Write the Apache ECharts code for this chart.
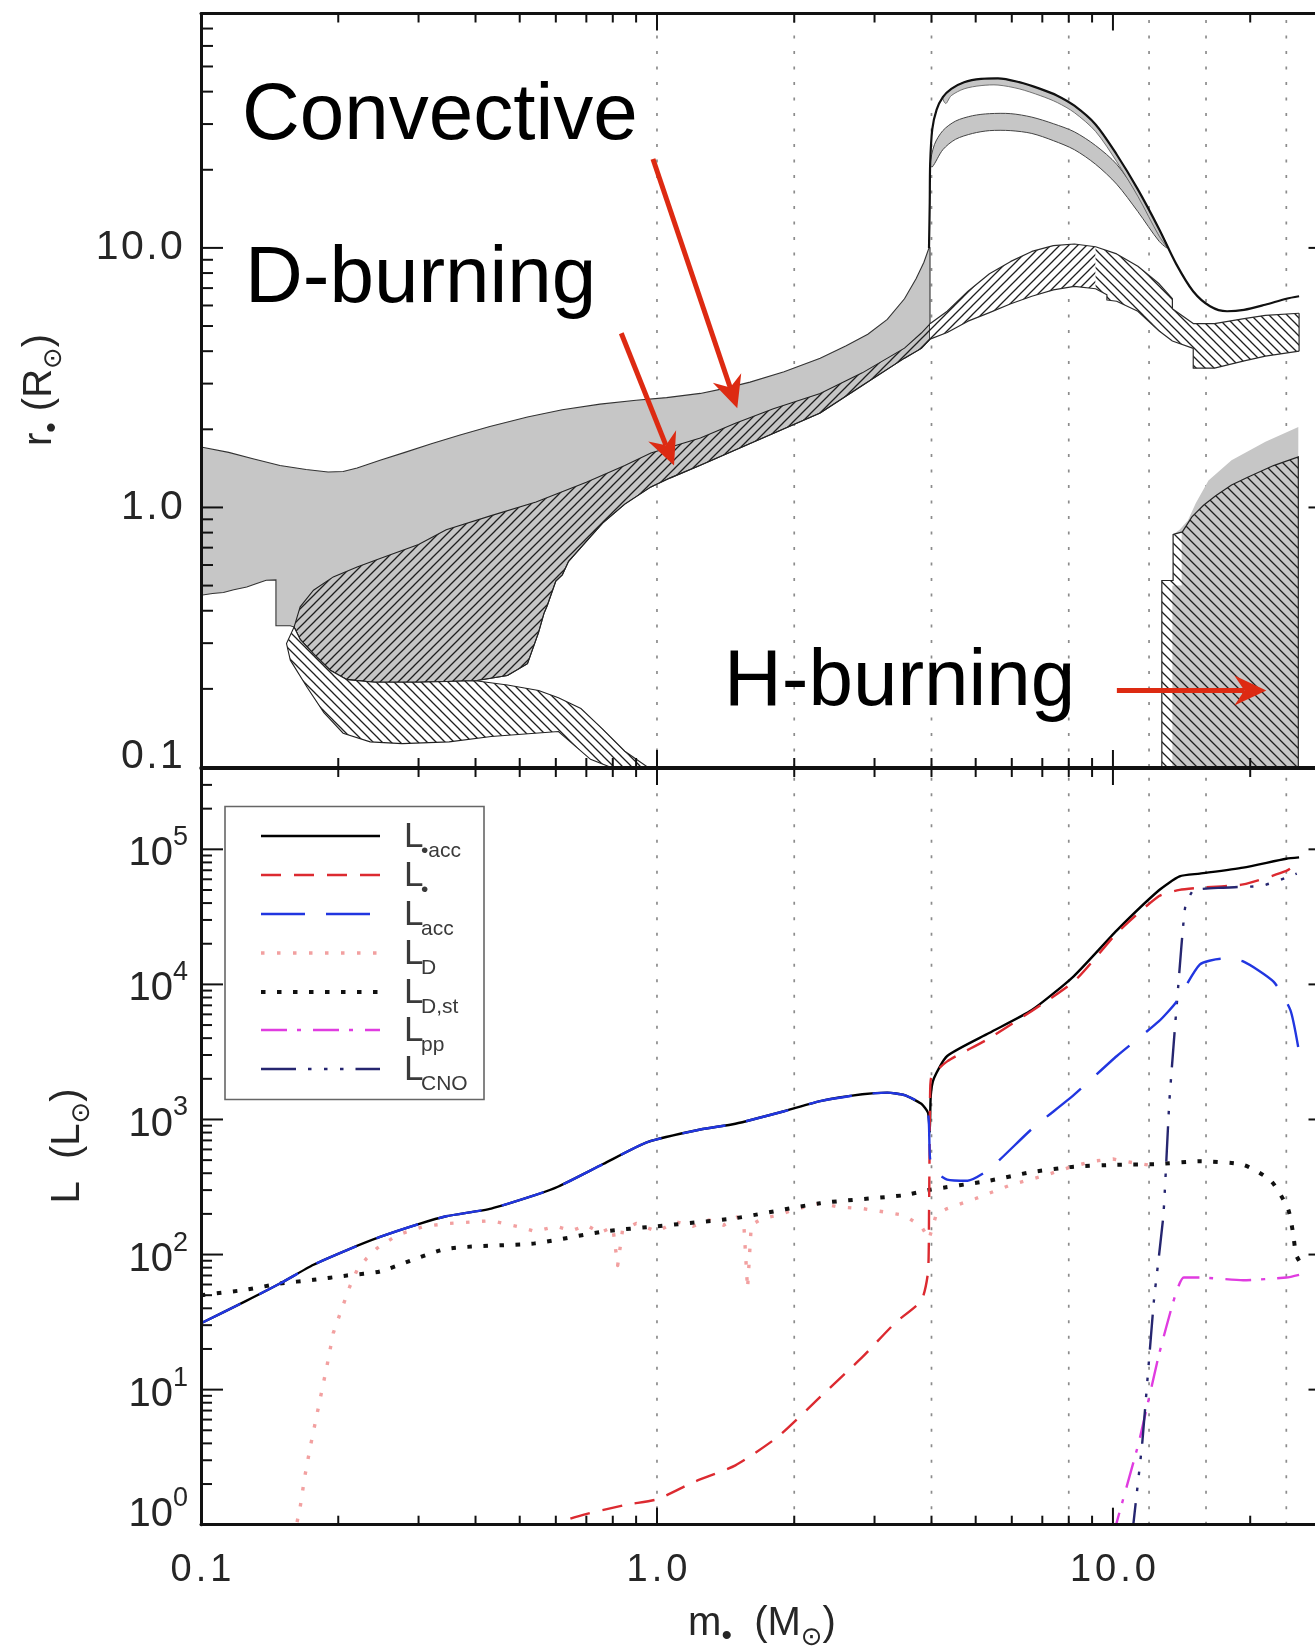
<!DOCTYPE html>
<html>
<head>
<meta charset="utf-8">
<script src="https://cdn.jsdelivr.net/npm/echarts@6/dist/echarts.min.js"></script>
<style>
  html, body { margin: 0; padding: 0; background: #fff; overflow: hidden; }
  #chart { width: 1315px; height: 1652px; }
</style>
</head>
<body>
<div id="chart"></div>
<script>
// ---------------- axis ranges and ticks ----------------
const massRange = [0.1, 30];
const radiusRange = [0.1, 80];
const lumRange = [1, 4e5];

const massMajorTicks = [1, 10];
const massMinorTicks = [0.2, 0.3, 0.4, 0.5, 0.6, 0.7, 0.8, 0.9, 2, 3, 4, 5, 6, 7, 8, 9, 20];
const radiusMajorTicks = [1, 10];
const radiusMinorTicks = [0.2, 0.3, 0.4, 0.5, 0.6, 0.7, 0.8, 0.9, 2, 3, 4, 5, 6, 7, 8, 9, 20, 30, 40, 50, 60, 70];
const lumMajorTicks = [10, 100, 1000, 10000, 100000];
const lumMinorTicks = [2, 3, 4, 5, 6, 7, 8, 9, 20, 30, 40, 50, 60, 70, 80, 90,
  200, 300, 400, 500, 600, 700, 800, 900, 2000, 3000, 4000, 5000, 6000, 7000, 8000, 9000,
  20000, 30000, 40000, 50000, 60000, 70000, 80000, 90000, 200000, 300000];
const guideMasses = [1, 2, 4, 8, 12, 16, 24];
const massTickLabels = { '0.1': '0.1', '1': '1.0', '10': '10.0' };
const radiusTickLabels = { '0.1': '0.1', '1': '1.0', '10': '10.0' };

// ---------------- upper panel: interior structure (m*, r) ----------------
// convective zone, low-mass branch: outer boundary
const convTop = [[0.1, 1.71], [0.115, 1.63], [0.13, 1.54], [0.149, 1.45], [0.17, 1.4], [0.19, 1.37],
  [0.205, 1.375], [0.22, 1.42], [0.247, 1.52], [0.28, 1.63], [0.32, 1.76], [0.37, 1.9], [0.43, 2.05],
  [0.52, 2.23], [0.62, 2.38], [0.75, 2.5], [0.9, 2.59], [1.05, 2.65], [1.245, 2.75], [1.4, 2.87],
  [1.6, 3.04], [1.9, 3.33], [2.28, 3.76], [2.6, 4.2], [2.9, 4.65], [3.2, 5.3], [3.49, 6.37], [3.7, 7.6],
  [3.85, 8.8], [3.95, 10.0], [3.97, 10.0]];
// convective zone inner edge at the lowest masses (right to left)
const convBottomLeft = [[0.157, 0.35], [0.146, 0.35], [0.146, 0.526], [0.139, 0.524], [0.132, 0.508],
  [0.126, 0.494], [0.118, 0.482], [0.112, 0.47], [0.106, 0.466], [0.1, 0.459]];
// deuterium-burning shell, upper edge
const dTop = [[0.16, 0.346], [0.165, 0.414], [0.1765, 0.48], [0.195, 0.54], [0.22, 0.59], [0.247, 0.636],
  [0.3, 0.72], [0.345, 0.82], [0.433, 0.93], [0.543, 1.05], [0.7, 1.25], [0.85, 1.45], [0.97, 1.62],
  [1.245, 1.85], [1.486, 2.11], [1.8, 2.4], [2.28, 2.75], [2.82, 3.3], [3.49, 4.11], [3.8, 4.7], [3.97, 5.1]];
// deuterium-burning shell, lower edge
const dBottom = [[0.16, 0.346], [0.165, 0.31], [0.1765, 0.273], [0.192, 0.236], [0.209, 0.217], [0.24, 0.212],
  [0.3, 0.212], [0.4, 0.215], [0.47, 0.225], [0.52, 0.25], [0.55, 0.33], [0.565, 0.39], [0.575, 0.42],
  [0.6, 0.52], [0.62, 0.55], [0.64, 0.62], [0.7, 0.74], [0.76, 0.87], [0.85, 1.03], [0.97, 1.2],
  [1.07, 1.30], [1.245, 1.455], [1.61, 1.77], [2.28, 2.31], [2.82, 2.95], [3.49, 3.76], [3.8, 4.1], [3.97, 4.45]];
// central deuterium-burning region below the shell
const d2Inner = [[0.47, 0.207], [0.55, 0.197], [0.608, 0.185], [0.681, 0.168], [0.76, 0.14], [0.85, 0.115],
  [0.953, 0.1], [1.02, 0.092], [1.05, 0.085]];
const d2Outer = [[0.154, 0.299], [0.157, 0.258], [0.171, 0.2025], [0.186, 0.162], [0.205, 0.135], [0.235, 0.125],
  [0.276, 0.123], [0.35, 0.125], [0.433, 0.131], [0.608, 0.137], [0.715, 0.107], [0.85, 0.095], [0.92, 0.085]];
// deuterium-burning shell after the swelling
const bandTop = [[3.97, 5.1], [4.33, 5.7], [4.81, 6.81], [5.36, 7.95], [5.97, 8.87], [6.64, 9.69], [7.4, 10.2],
  [8.23, 10.35], [9.16, 10.1], [10.19, 9.48], [11.34, 8.5], [12.63, 7.27], [13.5, 6.37], [13.5, 5.83],
  [15.0, 5.11], [16.7, 5.11], [19.4, 5.34], [21.6, 5.5], [25.6, 5.6]];
const bandBottom = [[3.97, 4.45], [4.33, 4.72], [4.81, 5.22], [5.36, 5.63], [5.97, 6.09], [6.64, 6.51],
  [7.4, 6.89], [8.23, 7.11], [9.16, 6.96], [9.7, 6.6], [9.7, 6.3], [10.19, 6.23], [11.34, 5.7], [12.63, 4.78],
  [13.5, 4.38], [15.0, 4.1], [15.0, 3.44], [16.7, 3.44], [19.4, 3.67], [21.6, 3.83], [25.6, 4.0]];
// stellar surface after the swelling, and its thin convective layer
const surfaceOuter = [[3.95, 10.0], [3.965, 15.0], [3.973, 21.0], [4.015, 28.6], [4.105, 34.1], [4.236, 38.1],
  [4.42, 41.0], [4.716, 43.5], [5.137, 44.8], [5.596, 45.0], [6.227, 43.5], [6.93, 41.0], [7.55, 38.6],
  [8.23, 35.3], [9.16, 29.9], [10.19, 22.9], [11.34, 16.8], [12.63, 11.8], [13.76, 8.68], [14.99, 6.81],
  [16.33, 5.96], [17.79, 5.7], [19.38, 5.77], [21.57, 6.04], [24.0, 6.37], [25.6, 6.51]];
const surfaceInner = [[4.3, 36.0], [4.42, 38.6], [4.716, 41.0], [5.137, 42.2], [5.596, 42.4], [6.227, 41.0],
  [6.93, 38.6], [7.55, 36.3], [8.23, 33.2], [9.16, 28.1], [10.19, 21.5], [11.34, 15.8], [12.63, 11.1], [13.2, 10.0]];
// deeper convective layer in the swollen envelope
const envUpper = [[3.973, 21.0], [4.06, 25.0], [4.236, 28.3], [4.516, 30.8], [4.92, 32.3], [5.36, 32.9],
  [5.97, 32.9], [6.64, 31.9], [7.4, 30.1], [8.23, 28.0], [9.16, 24.8], [10.19, 21.0], [11.34, 16.1],
  [12.63, 11.8], [13.18, 10.0]];
const envLower = [[4.015, 20.5], [4.236, 23.9], [4.516, 26.2], [4.92, 27.6], [5.36, 28.3], [5.97, 28.3],
  [6.64, 27.6], [7.4, 25.9], [8.23, 23.9], [9.16, 21.0], [10.19, 17.6], [11.34, 13.8], [12.63, 10.6]];
// hydrogen-burning core
const hOuter = [[12.8, 0.09], [12.8, 0.523], [13.55, 0.523], [13.55, 0.787], [14.2, 0.805], [14.9, 0.92],
  [15.8, 1.02], [16.8, 1.11], [18.2, 1.22], [19.8, 1.31], [22.5, 1.45], [25.5, 1.566], [25.5, 0.09]];
const hConvective = [[13.5, 0.09], [13.5, 0.5], [14.15, 0.5], [14.15, 0.8], [14.9, 0.92], [15.8, 1.02],
  [16.8, 1.11], [18.2, 1.22], [19.8, 1.31], [22.5, 1.45], [25.5, 1.566], [25.5, 0.09]];
const hCapTop = [[13.55, 0.787], [14.0, 0.82], [14.6, 0.89], [15.2, 1.04], [16.2, 1.27], [18.2, 1.52],
  [21.6, 1.79], [25.5, 2.04]];

// ---------------- lower panel: luminosities (m*, L) ----------------
const lStarAcc = [[0.1, 31], [0.125, 45], [0.149, 61], [0.1765, 84], [0.209, 108], [0.247, 135], [0.3, 168],
  [0.345, 192], [0.433, 219], [0.54, 275], [0.608, 319], [0.762, 468], [0.953, 680], [1.245, 843],
  [1.486, 929], [1.9, 1150], [2.28, 1368], [2.82, 1538], [3.2, 1581], [3.49, 1514], [3.8, 1306],
  [3.93, 1122], [3.965, 800], [3.985, 1500], [4.05, 2019], [4.33, 2951], [5.35, 4365], [6.64, 6457],
  [8.2, 11481], [10.2, 25119], [12.6, 49545], [14.0, 63096], [15.5, 66069], [19.3, 73282], [24.0, 85114],
  [25.6, 87096]];
const lStar = [[0.5, 0.55], [0.62, 1.05], [0.851, 1.4], [1.0, 1.54], [1.2, 2.06], [1.486, 2.75], [1.84, 4.47],
  [2.28, 8.83], [2.82, 17.4], [3.33, 31.2], [3.8, 45.7], [3.93, 74], [3.95, 197], [3.96, 519], [3.97, 1368],
  [3.99, 2018], [4.33, 2692], [5.35, 3981], [8.2, 10471], [10.2, 23988], [12.6, 44978], [14.0, 50119],
  [15.5, 51999], [19.3, 54954], [24.0, 69183], [25.3, 77625]];
const lAcc = [[0.1, 31], [0.125, 45], [0.149, 61], [0.1765, 84], [0.209, 108], [0.247, 135], [0.3, 168],
  [0.345, 192], [0.433, 219], [0.54, 275], [0.608, 319], [0.762, 468], [0.953, 680], [1.245, 843],
  [1.486, 929], [1.9, 1150], [2.28, 1368], [2.82, 1538], [3.2, 1581], [3.49, 1514], [3.8, 1306],
  [3.93, 1090], [3.95, 900], [3.97, 520], [4.05, 420], [4.33, 359], [4.8, 352], [5.35, 427], [6.64, 851],
  [8.2, 1514], [10.2, 2951], [12.6, 5321], [13.77, 7413], [15.5, 14028], [17.3, 15488], [19.3, 14791],
  [22.5, 10471], [24.5, 6457], [25.5, 3400]];
const lD = [[0.16, 0.8], [0.162, 1.0], [0.165, 1.35], [0.169, 2.3], [0.174, 3.9], [0.18, 6.8], [0.189, 15.1],
  [0.195, 26.2], [0.202, 36.8], [0.212, 58], [0.22, 77], [0.231, 94], [0.243, 111], [0.27, 140], [0.309, 162],
  [0.35, 170], [0.433, 178], [0.5, 160], [0.54, 148], [0.6, 162], [0.65, 150], [0.7, 165], [0.75, 145],
  [0.8, 160], [0.82, 83], [0.84, 150], [0.9, 170], [1.0, 148], [1.1, 175], [1.2, 162], [1.3, 180],
  [1.4, 165], [1.5, 190], [1.55, 170], [1.58, 56], [1.61, 165], [1.7, 185], [1.84, 195], [2.0, 215],
  [2.28, 240], [2.5, 225], [2.82, 219], [3.2, 205], [3.49, 195], [3.8, 162], [3.95, 130], [4.1, 200],
  [4.33, 219], [5.0, 260], [6.0, 330], [7.0, 380], [8.0, 440], [9.0, 490], [10.0, 510], [11.0, 480],
  [12.0, 460]];
const lDst = [[0.1, 50], [0.126, 55], [0.149, 61], [0.1765, 65], [0.209, 70], [0.247, 75], [0.345, 110],
  [0.54, 121], [0.762, 148], [1.0, 162], [1.486, 186], [2.28, 240], [3.49, 275], [3.97, 302], [5.35, 352],
  [6.6, 407], [8.2, 447], [10.2, 462], [12.6, 468], [15.5, 490], [19.3, 462], [22.2, 352], [24.2, 219],
  [24.8, 148], [25.2, 100], [25.6, 90]];
const lPP = [[10.0, 0.8], [10.2, 1.05], [11.4, 4.1], [12.6, 17.8], [13.7, 50], [14.3, 67.6], [15.5, 67.6],
  [19.3, 64.6], [24.0, 67.6], [25.6, 70.8]];
const lCNO = [[11.0, 0.8], [11.1, 1.05], [11.6, 4.1], [12.3, 45.7], [12.9, 195], [13.3, 1380], [13.9, 9550],
  [14.4, 37154], [15.0, 49545], [17.3, 51999], [21.2, 53703], [24.0, 61660], [25.3, 66069]];

const legendSubscripts = ['\u2022acc', '\u2022', 'acc', 'D', 'D,st', 'pp', 'CNO'];
const annotationTexts = ['Convective', 'D-burning', 'H-burning'];
// arrows in (m*, r) of the upper panel: [from, to]
const annotationArrows = [[[0.98, 22.0], [1.50, 2.41]], [[0.835, 4.69], [1.09, 1.45]], [[10.2, 0.197], [21.7, 0.197]]];

// ---------------- styles ----------------
const FONT = '"Liberation Sans", Arial, "DejaVu Sans", sans-serif';
const GRAY = '#c6c6c6';
const INK = '#111';
const LABEL = '#262626';
const RED_ARROW = '#dd2a12';
const lineStyles = {
  starAcc: { color: '#000000', width: 2.4, type: 'solid' },
  star:    { color: '#dc2a30', width: 2.4, type: [20, 13] },
  acc:     { color: '#2136e0', width: 2.4, type: [44, 21] },
  d:       { color: '#f2a0a0', width: 3.4, type: [3.5, 12.5] },
  dst:     { color: '#111111', width: 4, type: [4.5, 11.5] },
  pp:      { color: '#e03ce0', width: 2.4, type: [26, 10, 4, 12] },
  cno:     { color: '#262670', width: 2.4, type: [35, 12, 3.5, 12.5, 3.5, 12.5, 3.5, 12] }
};

function hatch(dir, size, bg) {
  const c = document.createElement('canvas');
  c.width = size; c.height = size;
  const g = c.getContext('2d');
  if (bg) { g.fillStyle = bg; g.fillRect(0, 0, size, size); }
  g.strokeStyle = '#1e1e1e'; g.lineWidth = 1.3;
  g.beginPath();
  if (dir === '/') {
    g.moveTo(-1, size + 1); g.lineTo(size + 1, -1);
    g.moveTo(-1, 1); g.lineTo(1, -1);
    g.moveTo(size - 1, size + 1); g.lineTo(size + 1, size - 1);
  } else {
    g.moveTo(-1, -1); g.lineTo(size + 1, size + 1);
    g.moveTo(size - 1, -1); g.lineTo(size + 1, 1);
    g.moveTo(-1, size - 1); g.lineTo(1, size + 1);
  }
  g.stroke();
  return { image: c, repeat: 'repeat' };
}
const hatchFwd = hatch('/', 9, null);
const hatchFwdWhite = hatch('/', 9, '#ffffff');
const hatchBackWhite = hatch('\\', 9, '#ffffff');
const hatchBack = hatch('\\', 10, null);

// ---------------- series helpers ----------------
function polygon(grid, pts, style, z, smooth) {
  return {
    type: 'custom', coordinateSystem: 'cartesian2d', xAxisIndex: grid * 2, yAxisIndex: grid * 2,
    clip: true, silent: true, z: z || 2, data: [pts[0]],
    renderItem: (params, api) => ({
      type: 'polygon', shape: { points: pts.map(p => api.coord(p)), smooth: smooth || 0 }, style: style
    })
  };
}
function curve(grid, data, ls, z, smooth) {
  return {
    type: 'line', xAxisIndex: grid * 2, yAxisIndex: grid * 2, data: data, symbol: 'none', showSymbol: false,
    silent: true, z: z || 3, smooth: smooth || false, clip: true,
    lineStyle: { color: ls.color, width: ls.width, type: ls.type, cap: 'butt', join: 'round' }
  };
}
function guides(grid, yr) {
  return {
    type: 'custom', coordinateSystem: 'cartesian2d', xAxisIndex: grid * 2, yAxisIndex: grid * 2,
    silent: true, z: 1, data: guideMasses.map(m => [m, yr[0]]),
    renderItem: (params, api) => {
      const m = api.value(0);
      const a = api.coord([m, yr[0]]), b = api.coord([m, yr[1]]);
      return { type: 'line', shape: { x1: a[0], y1: a[1], x2: b[0], y2: b[1] },
        style: { stroke: '#8c8c8c', lineWidth: 1.7, lineDash: [3, 12.5] } };
    }
  };
}
function xTicks(grid, values, len, yr) {
  return {
    type: 'custom', coordinateSystem: 'cartesian2d', xAxisIndex: grid * 2, yAxisIndex: grid * 2,
    silent: true, z: 8, data: values.map(v => [v, yr[0]]),
    renderItem: (params, api) => {
      const v = api.value(0);
      const a = api.coord([v, yr[0]]), b = api.coord([v, yr[1]]);
      return { type: 'group', children: [
        { type: 'line', shape: { x1: a[0], y1: a[1], x2: a[0], y2: a[1] - len }, style: { stroke: INK, lineWidth: 2 } },
        { type: 'line', shape: { x1: b[0], y1: b[1], x2: b[0], y2: b[1] + len }, style: { stroke: INK, lineWidth: 2 } }
      ] };
    }
  };
}
function yTicks(grid, values, len, xr) {
  return {
    type: 'custom', coordinateSystem: 'cartesian2d', xAxisIndex: grid * 2, yAxisIndex: grid * 2,
    silent: true, z: 8, data: values.map(v => [xr[0], v]),
    renderItem: (params, api) => {
      const v = api.value(1);
      const a = api.coord([xr[0], v]), b = api.coord([xr[1], v]);
      return { type: 'group', children: [
        { type: 'line', shape: { x1: a[0], y1: a[1], x2: a[0] + len, y2: a[1] }, style: { stroke: INK, lineWidth: 2 } },
        { type: 'line', shape: { x1: b[0], y1: b[1], x2: b[0] - len, y2: b[1] }, style: { stroke: INK, lineWidth: 2 } }
      ] };
    }
  };
}

function near(a, b) { return Math.abs(a - b) <= 1e-6 * Math.max(Math.abs(a), Math.abs(b)); }
function labelFrom(map, v) {
  for (const k in map) if (near(+k, v)) return map[k];
  return '';
}
// tick labels are set with a little extra space between the characters
function spaced(text, styleName) {
  return text.split('').map(ch => '{' + styleName + '|' + ch + '}').join('');
}

// ---------------- polygons built from the outlines ----------------
const convectiveLow = [...convTop, ...dBottom.slice().reverse(), ...convBottomLeft];
const dShell = [...dTop, ...dBottom.slice(1).reverse()];
const dCentral = [...dBottom.slice(0, 8), ...d2Inner, ...d2Outer.slice().reverse()];
const splitTop = 8, splitBottom = 8;   // the shell hatching changes direction near 8 M_sun
const bandA = [...bandTop.slice(0, splitTop + 1), ...bandBottom.slice(0, splitBottom + 1).reverse()];
const bandB = [...bandTop.slice(splitTop), ...bandBottom.slice(splitBottom).reverse()];
const surfaceLayer = [...surfaceOuter.slice(5, 18), ...surfaceInner.slice().reverse()];
const envLayer = [...envUpper, ...envLower.slice().reverse()];
const hCap = [...hCapTop, ...hOuter.slice(3, 12).reverse()];
const bandEnd = [bandTop[bandTop.length - 1], bandBottom[bandBottom.length - 1]];

const thin = { color: '#2a2a2a', width: 1.2, type: 'solid' };

const series = [
  guides(0, radiusRange),
  polygon(0, convectiveLow, { fill: GRAY, stroke: '#333', lineWidth: 1.1 }, 2),
  polygon(0, dShell, { fill: hatchFwd, stroke: '#222', lineWidth: 1.1 }, 2),
  polygon(0, dCentral, { fill: hatchBackWhite, stroke: '#222', lineWidth: 1.1 }, 2),
  polygon(0, bandA, { fill: hatchFwdWhite }, 2),
  polygon(0, bandB, { fill: hatchBackWhite }, 2),
  curve(0, bandTop, thin, 3),
  curve(0, bandBottom, thin, 3),
  curve(0, bandEnd, thin, 3),
  polygon(0, envLayer, { fill: GRAY, stroke: '#444', lineWidth: 1 }, 2, 0.3),
  polygon(0, surfaceLayer, { fill: GRAY, stroke: '#555', lineWidth: 0.8 }, 2, 0.3),
  curve(0, surfaceOuter, { color: '#111', width: 2.2, type: 'solid' }, 4, 0.3),
  polygon(0, hConvective, { fill: GRAY }, 2),
  polygon(0, hCap, { fill: GRAY }, 2),
  polygon(0, hOuter, { fill: hatchBack, stroke: '#222', lineWidth: 1.2 }, 3),
  xTicks(0, massMajorTicks, 17, radiusRange),
  xTicks(0, massMinorTicks, 9, radiusRange),
  yTicks(0, radiusMajorTicks, 22, massRange),
  yTicks(0, radiusMinorTicks, 12, massRange),

  guides(1, lumRange),
  curve(1, lD, lineStyles.d, 3),
  curve(1, lDst, lineStyles.dst, 3, 0.2),
  curve(1, lPP, lineStyles.pp, 3, 0.2),
  curve(1, lStarAcc, lineStyles.starAcc, 4, 0.2),
  curve(1, lStar, lineStyles.star, 5, 0.2),
  curve(1, lAcc, lineStyles.acc, 6, 0.2),
  curve(1, lCNO, lineStyles.cno, 5, 0.15),
  xTicks(1, massMajorTicks, 17, lumRange),
  xTicks(1, massMinorTicks, 9, lumRange),
  yTicks(1, lumMajorTicks, 22, massRange),
  yTicks(1, lumMinorTicks, 11, massRange)
];

// ---------------- axes ----------------
const axisLine = { show: true, onZero: false, lineStyle: { color: INK, width: 3 } };
function massAxis(grid, position, labels) {
  return {
    gridIndex: grid, type: 'log', logBase: 10, min: massRange[0], max: massRange[1], position: position, z: 10,
    axisLine: axisLine, axisTick: { show: false }, splitLine: { show: false },
    axisLabel: labels ? {
      show: true, margin: 27, fontSize: 38, fontFamily: FONT, color: LABEL,
      formatter: v => spaced(labelFrom(massTickLabels, v), 'c'),
      rich: { c: { fontSize: 38, fontFamily: FONT, color: LABEL, padding: [0, 2, 0, 2] } }
    } : { show: false }
  };
}
function valueAxis(grid, position, range, labelCfg) {
  return {
    gridIndex: grid, type: 'log', logBase: 10, min: range[0], max: range[1], position: position, z: 10,
    axisLine: axisLine, axisTick: { show: false }, splitLine: { show: false },
    axisLabel: labelCfg || { show: false }
  };
}
const radiusLabels = {
  show: true, margin: 17, fontSize: 41, fontFamily: FONT, color: LABEL,
  formatter: v => spaced(labelFrom(radiusTickLabels, v), near(v, 0.1) ? 'lift' : 'c'),
  rich: {
    c:    { fontSize: 41, fontFamily: FONT, color: LABEL, padding: [0, 1.2, 0, 1.2] },
    lift: { fontSize: 41, fontFamily: FONT, color: LABEL, padding: [0, 1.2, 20, 1.2] }
  }
};
const lumLabels = {
  show: true, margin: 13, fontFamily: FONT, color: LABEL,
  formatter: v => {
    const e = Math.round(Math.log10(v));
    if (!near(Math.pow(10, e), v) || v > 2e5) return '';
    return e === 0 ? '{b0|10}{e0|0}' : '{b|10}{e|' + e + '}';
  },
  rich: {
    b:  { fontSize: 40, fontFamily: FONT, color: LABEL, padding: [10, 0, 0, 0] },
    e:  { fontSize: 27, fontFamily: FONT, color: LABEL, padding: [0, 0, 23, 0] },
    b0: { fontSize: 40, fontFamily: FONT, color: LABEL, padding: [10, 0, 30, 0] },
    e0: { fontSize: 27, fontFamily: FONT, color: LABEL, padding: [0, 0, 53, 0] }
  }
};

const option = {
  animation: false,
  backgroundColor: '#ffffff',
  grid: [
    { left: 201, top: 13.5, width: 1129.5, height: 753.5, containLabel: false, outerBoundsMode: 'none' },
    { left: 201, top: 768, width: 1129.5, height: 756.7, containLabel: false, outerBoundsMode: 'none' }
  ],
  xAxis: [
    massAxis(0, 'bottom', false), massAxis(0, 'top', false),
    massAxis(1, 'bottom', true), massAxis(1, 'top', false)
  ],
  yAxis: [
    valueAxis(0, 'left', radiusRange, radiusLabels), valueAxis(0, 'right', radiusRange),
    valueAxis(1, 'left', lumRange, lumLabels), valueAxis(1, 'right', lumRange)
  ],
  series: series
};

const chart = echarts.init(document.getElementById('chart'), null, { renderer: 'canvas', width: 1315, height: 1652 });
chart.setOption(option);

// ---------------- annotations, axis titles and legend ----------------
function arrowShapes(p0, p1) {
  const dx = p1[0] - p0[0], dy = p1[1] - p0[1];
  const len = Math.hypot(dx, dy), ux = dx / len, uy = dy / len;
  const head = 32, half = 15, notch = 22;
  const bx = p1[0] - ux * head, by = p1[1] - uy * head;
  const nx = p1[0] - ux * notch, ny = p1[1] - uy * notch;
  return [
    { type: 'line', z: 20, shape: { x1: p0[0], y1: p0[1], x2: nx, y2: ny }, style: { stroke: RED_ARROW, lineWidth: 5 } },
    { type: 'polygon', z: 20, shape: { points: [p1, [bx - uy * half, by + ux * half], [nx, ny], [bx + uy * half, by - ux * half]] },
      style: { fill: RED_ARROW } }
  ];
}
const graphics = [];
annotationArrows.forEach(a => {
  const p0 = chart.convertToPixel({ gridIndex: 0 }, a[0]);
  const p1 = chart.convertToPixel({ gridIndex: 0 }, a[1]);
  graphics.push(...arrowShapes(p0, p1));
});
const textSpots = [[242, 117], [245, 280], [724, 683]];
annotationTexts.forEach((t, i) => {
  graphics.push({ type: 'text', z: 20, x: textSpots[i][0], y: textSpots[i][1],
    style: { text: t, fontSize: 80, fontFamily: FONT, fill: '#000', align: 'left', verticalAlign: 'middle' } });
});

// axis titles
const titleRich = {
  m: { fontSize: 40, fontFamily: FONT, fill: LABEL, padding: [0, 0, 12, 0] },
  s: { fontSize: 26, fontFamily: FONT, fill: LABEL, padding: [16, 0, 0, 0] },
  d: { fontSize: 30, fontFamily: FONT, fill: LABEL, padding: [14, 0, 0, 0] }
};
graphics.push({ type: 'text', z: 20, x: 46, y: 390, rotation: Math.PI / 2,
  style: { text: '{m|r}{d|\u2022}{m| (R}{s|\u2299}{m|)}', rich: titleRich, align: 'center', verticalAlign: 'middle' } });
graphics.push({ type: 'text', z: 20, x: 74, y: 1146, rotation: Math.PI / 2,
  style: { text: '{m|L  (L}{s|\u2299}{m|)}', rich: titleRich, align: 'center', verticalAlign: 'middle' } });
graphics.push({ type: 'text', z: 20, x: 762, y: 1630,
  style: { text: '{m|m}{d|\u2022}{m|  (M}{s|\u2299}{m|)}', rich: titleRich, align: 'center', verticalAlign: 'middle' } });

// legend
const legendRows = [836, 875, 914, 953, 992, 1030, 1069];
const legendKeys = ['starAcc', 'star', 'acc', 'd', 'dst', 'pp', 'cno'];
graphics.push({ type: 'rect', z: 15, shape: { x: 225, y: 806.5, width: 259, height: 293 },
  style: { fill: '#fff', stroke: '#666', lineWidth: 1.6 } });
legendKeys.forEach((k, i) => {
  const ls = lineStyles[k];
  const y = legendRows[i];
  graphics.push({ type: 'line', z: 16, shape: { x1: 261, y1: y, x2: 380, y2: y },
    style: { stroke: ls.color, lineWidth: ls.width, lineDash: ls.type === 'solid' ? null : ls.type } });
  graphics.push({ type: 'text', z: 16, x: 404, y: y + 1,
    style: { text: 'L', fontSize: 35, fontFamily: FONT, fill: '#3a3a3a', align: 'left', verticalAlign: 'middle' } });
  graphics.push({ type: 'text', z: 16, x: 421, y: y + 15,
    style: { text: legendSubscripts[i], fontSize: 21, fontFamily: FONT, fill: '#3a3a3a', align: 'left', verticalAlign: 'middle' } });
});

chart.setOption({ graphic: graphics });
</script>
</body>
</html>
